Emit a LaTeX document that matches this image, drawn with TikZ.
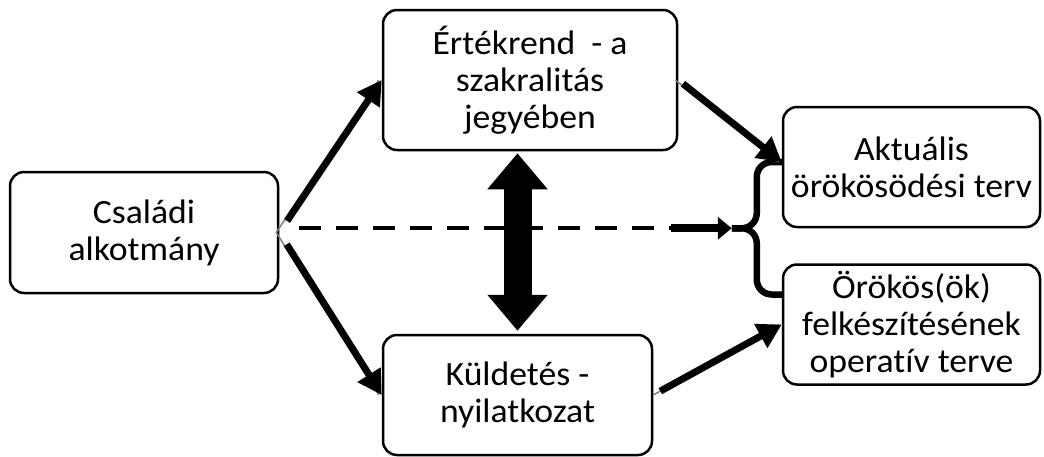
\documentclass[tikz,border=0pt]{standalone}
\usepackage{fontspec}
\setmainfont{Carlito}[FakeStretch=1.05,Ligatures=NoCommon]
\usepackage{tikz}
\usetikzlibrary{positioning,arrows.meta,calc}

\tikzset{
  box/.style={draw,line width=2.5pt,rounded corners=14pt,align=center,inner sep=0pt},
  flow/.style={line width=7pt,-{Triangle[width=26pt,length=24pt]}},
  edge shade/.style={gray,line width=1.5pt},
  brace line/.style={line width=6.5pt,rounded corners=15pt},
}

\begin{document}
\begin{tikzpicture}[x=1pt,y=-1pt,font=\fontsize{34}{37}\selectfont]
  \useasboundingbox (0,0) rectangle (1044,456);

  \node[box,minimum width=268pt,minimum height=121pt] (alk) at (144,232.5) {Családi\\alkotmány};
  \node[box,minimum width=294pt,minimum height=140pt] (ert) at (530,80) {Értékrend\ \ - a\\szakralitás\\jegyében};
  \node[box,minimum width=269pt,minimum height=120pt] (kul) at (517.5,395) {Küldetés -\\nyilatkozat};
  \node[box,minimum width=257pt,minimum height=120pt] (akt) at (911.5,167) {Aktuális\\örökösödési terv};
  \node[box,minimum width=257pt,minimum height=120pt,below=35pt of akt] (ork) {Örökös(ök)\\felkészítésének\\operatív terve};

  % brace in front of the two plans
  \coordinate (btop) at ([yshift=5pt]akt.west);
  \coordinate (bbot) at ([yshift=30pt]ork.west);
  \coordinate (bmid) at ($(btop)!.5!(bbot)$);
  \coordinate (bknee) at ([xshift=-25pt]bmid);
  \coordinate (btip) at ([xshift=-50pt]bmid);
  \draw[brace line] (btop) -| (bknee) -- (btip);
  \draw[brace line] (bbot) -| (bknee) -- (btip);

  \draw[edge shade] ([xshift=-3pt]alk.east) -- ([xshift=-3pt]ert.west);
  \draw[flow,shorten <=14pt] (alk.east) -- (ert.west);
  \draw[edge shade] ([xshift=-3pt]alk.east) -- ([xshift=-3pt]kul.west);
  \draw[flow,shorten <=14pt] (alk.east) -- (kul.west);
  \draw[edge shade] ([xshift=-3pt]ert.east) -- ([xshift=-3pt]btop);
  \draw[flow,shorten <=6pt] (ert.east) -- (btop);
  \draw[edge shade] (kul.east) -- ([xshift=-3pt]ork.west);
  \draw[flow,shorten <=8pt] (kul.east) -- (ork.west);

  \draw[line width=4pt,dash pattern=on 22pt off 15pt] ($(alk.east |- btip)+(20,0)$) -- ($(btip)+(-45,0)$);
  \draw[line width=8pt,-{Triangle[width=22pt,length=14pt]}] ($(btip)+(-61,0)$) -- (btip);

  \draw[line width=28pt,{Triangle[width=58pt,length=36pt]}-{Triangle[width=58pt,length=36pt]}]
    ($(kul.north |- ert.south)+(0,2)$) -- ($(kul.north)+(0,-3)$);
\end{tikzpicture}
\end{document}
